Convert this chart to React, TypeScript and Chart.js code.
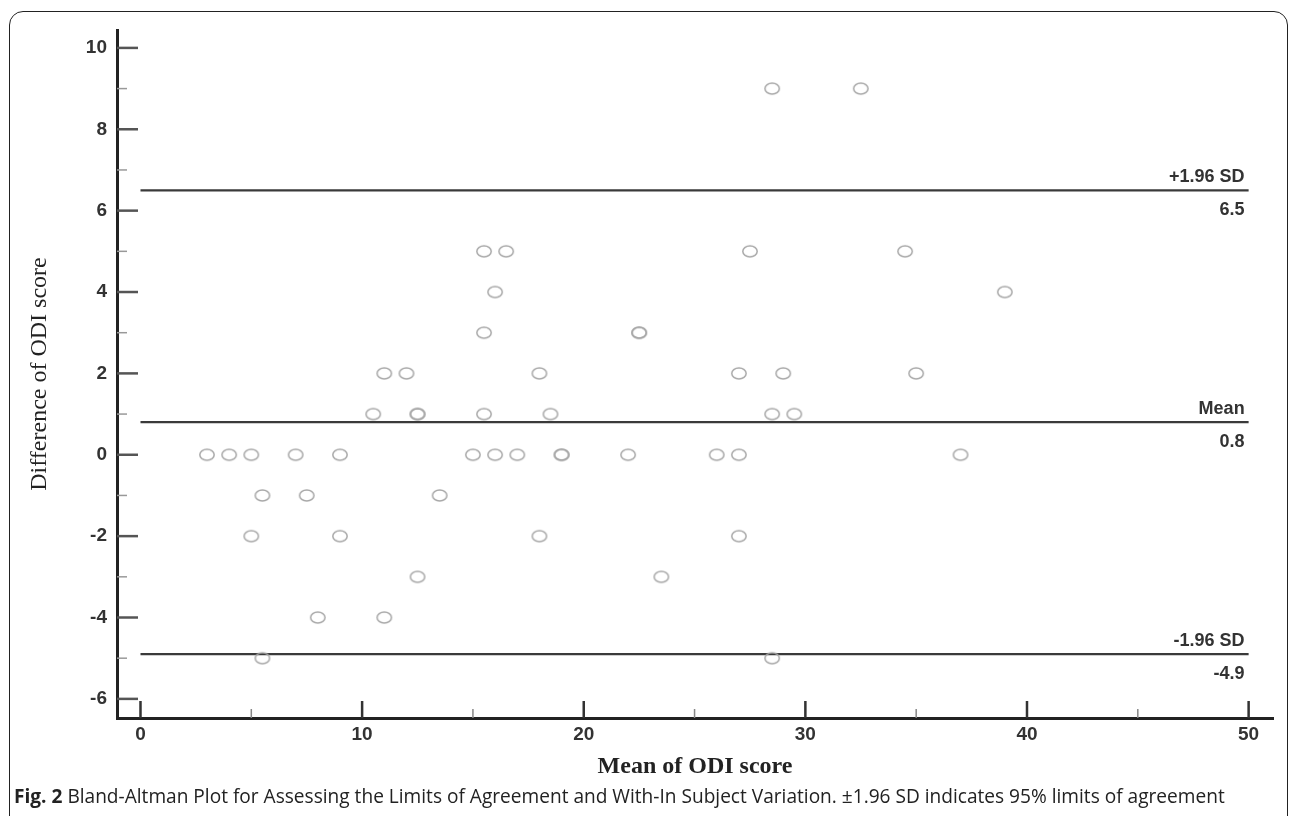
import React, { useEffect, useRef } from "react";
import { Chart, registerables } from "chart.js";

Chart.register(...registerables);

// Mean of ODI score (x) and difference of ODI score (y) for each subject
const meanValues = [
  28.5, 32.5,
  15.5, 16.5, 27.5, 34.5,
  16, 39,
  15.5, 22.5, 22.5,
  11, 12, 18, 27, 29, 35,
  10.5, 12.5, 12.5, 15.5, 18.5, 28.5, 29.5,
  3, 4, 5, 7, 9, 15, 16, 17, 19, 19, 22, 26, 27, 37,
  5.5, 7.5, 13.5,
  5, 9, 18, 27,
  12.5, 23.5,
  8, 11,
  5.5, 28.5,
];
const diffValues = [
  9, 9,
  5, 5, 5, 5,
  4, 4,
  3, 3, 3,
  2, 2, 2, 2, 2, 2,
  1, 1, 1, 1, 1, 1, 1,
  0, 0, 0, 0, 0, 0, 0, 0, 0, 0, 0, 0, 0, 0,
  -1, -1, -1,
  -2, -2, -2, -2,
  -3, -3,
  -4, -4,
  -5, -5,
];

const limitValues = [6.5, 0.8, -4.9];
const limitNames = ["+1.96 SD", "Mean", "-1.96 SD"];
const limitValueLabels = ["6.5", "0.8", "-4.9"];
const lineStart = 0;
const lineEnd = 50;

const xMajorTicks = [0, 10, 20, 30, 40, 50];
const yMajorTicks = [-6, -4, -2, 0, 2, 4, 6, 8, 10];

const xTitle = "Mean of ODI score";
const yTitle = "Difference of ODI score";
const captionBold = "Fig. 2";
const captionText =
  " Bland-Altman Plot for Assessing the Limits of Agreement and With-In Subject Variation. \u00b11.96 SD indicates 95% limits of agreement";

function makeEllipse(): HTMLCanvasElement {
  const c = document.createElement("canvas");
  c.width = 18;
  c.height = 15;
  const g = c.getContext("2d")!;
  g.strokeStyle = "#a8a8a8";
  g.lineWidth = 1.5;
  g.beginPath();
  g.ellipse(9, 7.5, 7.2, 5.5, 0, 0, Math.PI * 2);
  g.stroke();
  return c;
}

const innerTicksPlugin = {
  id: "innerTicks",
  afterDatasetsDraw(chart: any) {
    const ctx = chart.ctx;
    const xs = chart.scales.x;
    const ys = chart.scales.y;
    const area = chart.chartArea;
    ctx.save();
    ys.ticks.forEach((t: any) => {
      const major = yMajorTicks.includes(t.value);
      const py = ys.getPixelForValue(t.value);
      ctx.strokeStyle = major ? "#555" : "#999";
      ctx.lineWidth = major ? 2.5 : 1.5;
      ctx.beginPath();
      ctx.moveTo(area.left, py);
      ctx.lineTo(area.left + (major ? 21 : 10), py);
      ctx.stroke();
    });
    xs.ticks.forEach((t: any) => {
      const major = xMajorTicks.includes(t.value);
      const px = xs.getPixelForValue(t.value);
      ctx.strokeStyle = major ? "#333" : "#888";
      ctx.lineWidth = major ? 2.5 : 1.5;
      ctx.beginPath();
      ctx.moveTo(px, area.bottom);
      ctx.lineTo(px, area.bottom - (major ? 17 : 9));
      ctx.stroke();
    });
    // limit labels
    ctx.fillStyle = "#333";
    ctx.font = "bold 18px 'Liberation Sans', Arial, sans-serif";
    ctx.textAlign = "right";
    ctx.textBaseline = "alphabetic";
    const rx = xs.getPixelForValue(lineEnd) - 4;
    limitValues.forEach((v, i) => {
      const py = ys.getPixelForValue(v);
      ctx.fillText(limitNames[i], rx, py - 8);
      ctx.fillText(limitValueLabels[i], rx, py + 25);
    });
    ctx.restore();
  },
};

export default function App() {
  const ref = useRef<HTMLCanvasElement | null>(null);

  useEffect(() => {
    if (!ref.current) return;
    const pointImg = makeEllipse();
    const points = meanValues.map((x, i) => ({ x, y: diffValues[i] }));
    const lineSets = limitValues.map((v) => ({
      type: "line" as const,
      data: [
        { x: lineStart, y: v },
        { x: lineEnd, y: v },
      ],
      borderColor: "#3a3a3a",
      borderWidth: 2.2,
      pointRadius: 0,
      showLine: true,
      fill: false,
    }));
    const chart = new Chart(ref.current, {
      type: "scatter",
      data: {
        datasets: [
          {
            data: points,
            pointStyle: pointImg as any,
            pointRadius: 7,
            pointHoverRadius: 7,
          } as any,
          ...lineSets,
        ],
      },
      options: {
        animation: false,
        responsive: false,
        devicePixelRatio: 1,
        events: [],
        layout: { padding: { left: 0, right: 19, top: 30, bottom: 0 } },
        plugins: { legend: { display: false }, tooltip: { enabled: false } },
        scales: {
          x: {
            type: "linear",
            min: -1.06,
            max: 51.1,
            afterFit: (s: any) => {
              s.height = 98;
            },
            ticks: {
              stepSize: 5,
              includeBounds: false,
              padding: 5,
              color: "#333",
              font: { family: "'Liberation Sans', Arial, sans-serif", size: 19, weight: "bold" },
              callback: (v: any) => (xMajorTicks.includes(v) ? String(v) : ""),
              maxRotation: 0,
              autoSkip: false,
            },
            grid: { display: false, drawTicks: false },
            border: { display: true, color: "#222", width: 3 },
            title: {
              display: true,
              text: xTitle,
              color: "#222",
              font: { family: "'Liberation Serif', 'Times New Roman', serif", size: 24, weight: "bold" },
              padding: { top: 0, bottom: 35 },
            },
          },
          y: {
            type: "linear",
            min: -6.47,
            max: 10.44,
            afterFit: (s: any) => {
              s.width = 117;
            },
            ticks: {
              stepSize: 1,
              includeBounds: false,
              padding: 10,
              color: "#333",
              font: { family: "'Liberation Sans', Arial, sans-serif", size: 19, weight: "bold" },
              callback: (v: any) => (yMajorTicks.includes(v) ? String(v) : ""),
              autoSkip: false,
            },
            grid: { display: false, drawTicks: false },
            border: { display: true, color: "#222", width: 3 },
            title: {
              display: true,
              text: yTitle,
              color: "#222",
              font: { family: "'Liberation Serif', 'Times New Roman', serif", size: 24, weight: "normal" },
              padding: { top: 25, bottom: 0 },
            },
          },
        },
      },
      plugins: [innerTicksPlugin],
    } as any);
    return () => chart.destroy();
  }, []);

  return (
    <div
      style={{
        position: "fixed",
        left: 0,
        top: 0,
        width: 1292,
        height: 816,
        overflow: "hidden",
        background: "#fff",
      }}
    >
      <div
        style={{
          position: "absolute",
          left: 9,
          top: 11,
          width: 1279,
          height: 900,
          border: "1.5px solid #222",
          borderRadius: 14,
          boxSizing: "border-box",
        }}
      />
      <canvas
        ref={ref}
        width={1292}
        height={816}
        style={{ position: "absolute", left: 0, top: 0, width: 1292, height: 816 }}
      />
      <div
        style={{
          position: "absolute",
          left: 14,
          top: 784,
          fontFamily: "'Open Sans', 'Noto Sans', sans-serif",
          fontSize: 19.1,
          color: "#222",
          whiteSpace: "nowrap",
          lineHeight: "24px",
        }}
      >
        <b>{captionBold}</b>
        {captionText}
      </div>
    </div>
  );
}
